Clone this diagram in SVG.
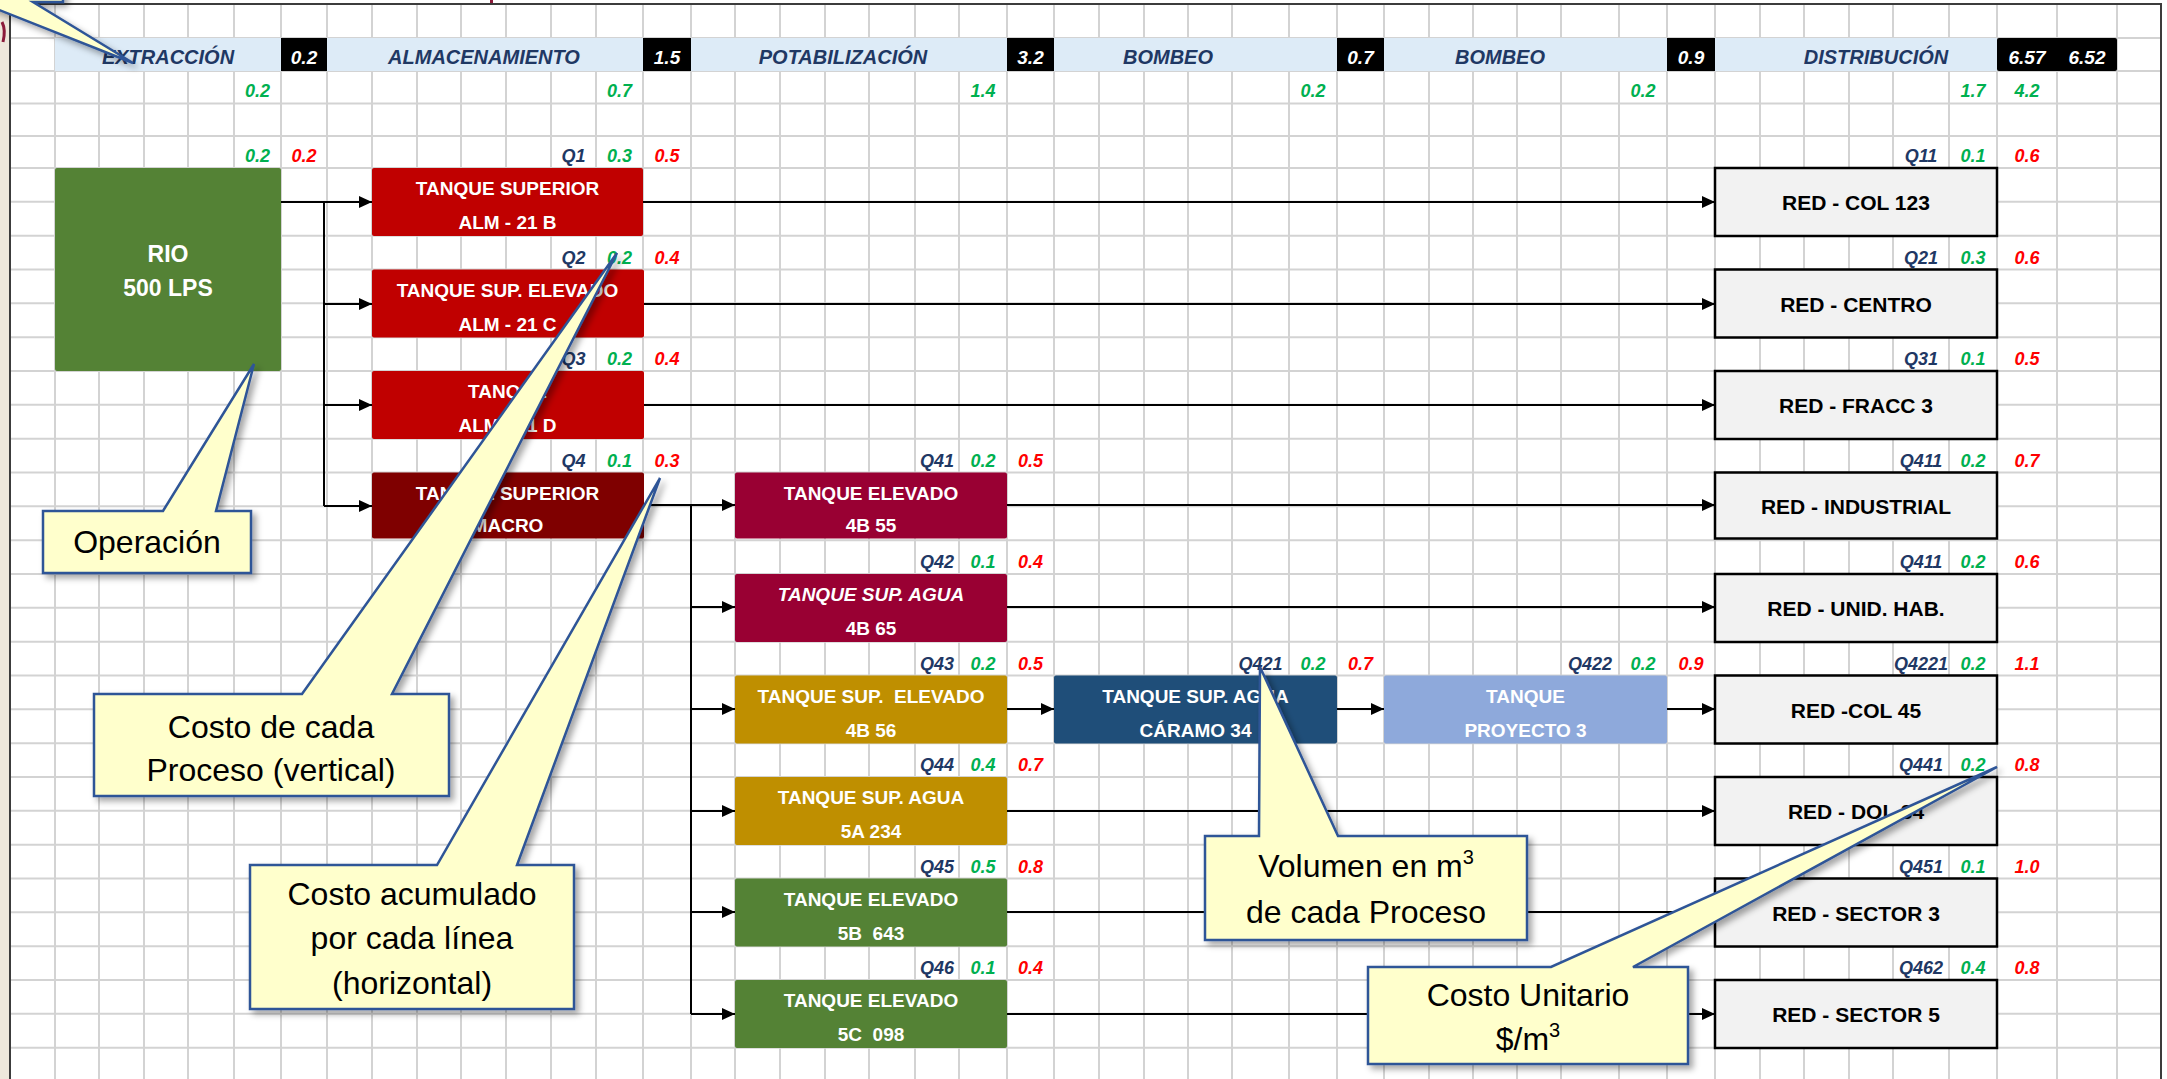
<svg xmlns="http://www.w3.org/2000/svg" width="2167" height="1079" viewBox="0 0 2167 1079">
<defs>
<style>
.grid{stroke:#D3D3D3;stroke-width:2;fill:none}
.band{fill:#DDEBF7}
.blk{fill:#000}
.hdr{font-family:'Liberation Sans',Arial,sans-serif;font-weight:bold;font-style:italic;font-size:20px;fill:#1F3864;text-anchor:middle}
.bv{font-family:'Liberation Sans',Arial,sans-serif;font-weight:bold;font-style:italic;font-size:19px;fill:#fff;text-anchor:middle}
.q,.g,.r{font-family:'Liberation Sans',Arial,sans-serif;font-weight:bold;font-style:italic;font-size:18px;text-anchor:middle}
.q{fill:#1F3864}.g{fill:#00B050}.r{fill:#FF0000}
.bt{font-family:'Liberation Sans',Arial,sans-serif;font-weight:bold;font-size:19px;fill:#fff;text-anchor:middle}
.it{font-style:italic}
.rt{font-family:'Liberation Sans',Arial,sans-serif;font-weight:bold;font-size:21px;fill:#000;text-anchor:middle}
.redbox{fill:#F2F2F2;stroke:#000;stroke-width:2.5}
.conn path{stroke:#000;stroke-width:2;fill:none}
.arr{marker-end:url(#ah)}
.co{fill:#FFFFCC;stroke:#2F5597;stroke-width:2.5;stroke-linejoin:miter}
.ct{font-family:'Liberation Sans',Arial,sans-serif;font-size:32px;fill:#000;text-anchor:middle}
</style>
<marker id="ah" viewBox="0 0 13 12" refX="13" refY="6" markerWidth="13" markerHeight="12" markerUnits="userSpaceOnUse" orient="auto"><path d="M0,0 L13,6 L0,12 z" fill="#000"/></marker>
<filter id="sh" x="-20%" y="-20%" width="140%" height="140%"><feDropShadow dx="4" dy="4" stdDeviation="3" flood-color="#000" flood-opacity="0.35"/></filter>
</defs>

<rect x="0" y="0" width="2167" height="1079" fill="#fff"/>
<rect x="0" y="0" width="10" height="1079" fill="#EEE8DC"/>
<path d="M2,22 Q6,30 3,42" stroke="#8B1A3A" stroke-width="3" fill="none"/>
<rect x="490" y="0" width="3" height="4" fill="#8B1A3A"/>

<g id="grid">
<path class="grid" d="M55,5V1079M99,5V1079M144,5V1079M188,5V1079M234,5V1079M281,5V1079M327,5V1079M372,5V1079M417,5V1079M461,5V1079M506,5V1079M551,5V1079M596,5V1079M643,5V1079M691,5V1079M735,5V1079M780,5V1079M825,5V1079M869,5V1079M915,5V1079M959,5V1079M1007,5V1079M1054,5V1079M1099,5V1079M1144,5V1079M1188,5V1079M1232,5V1079M1289,5V1079M1337,5V1079M1384,5V1079M1429,5V1079M1473,5V1079M1517,5V1079M1561,5V1079M1619,5V1079M1667,5V1079M1715,5V1079M1760,5V1079M1804,5V1079M1849,5V1079M1893,5V1079M1949,5V1079M1997,5V1079M2057,5V1079M2117,5V1079"/>
<path class="grid" d="M10,38H2161M10,71H2161M10,103.5H2161M10,136H2161M10,168H2161M10,201.8H2161M10,235.7H2161M10,269.5H2161M10,303.3H2161M10,337.2H2161M10,371H2161M10,404.8H2161M10,438.7H2161M10,472.5H2161M10,506.3H2161M10,540.2H2161M10,574H2161M10,607.8H2161M10,641.7H2161M10,675.5H2161M10,709.3H2161M10,743.2H2161M10,777H2161M10,810.8H2161M10,844.7H2161M10,878.5H2161M10,912.3H2161M10,946.2H2161M10,980H2161M10,1013.8H2161M10,1047.7H2161"/>
<rect x="10" y="4" width="2151" height="1080" fill="none" stroke="#3C3C3C" stroke-width="2"/>
</g>

<g id="header">
<rect class="band" x="55" y="38" width="1942" height="33"/>
<rect class="blk" x="281" y="38" width="46" height="33"/>
<rect class="blk" x="643" y="38" width="48" height="33"/>
<rect class="blk" x="1007" y="38" width="47" height="33"/>
<rect class="blk" x="1337" y="38" width="47" height="33"/>
<rect class="blk" x="1667" y="38" width="48" height="33"/>
<rect class="blk" x="1997" y="38" width="120" height="33" rx="2"/>
<text class="hdr" x="168" y="64">EXTRACCIÓN</text>
<text class="hdr" x="484" y="64">ALMACENAMIENTO</text>
<text class="hdr" x="843" y="64">POTABILIZACIÓN</text>
<text class="hdr" x="1168" y="64">BOMBEO</text>
<text class="hdr" x="1500" y="64">BOMBEO</text>
<text class="hdr" x="1876" y="64">DISTRIBUCIÓN</text>
<text class="bv" x="304" y="64">0.2</text>
<text class="bv" x="667" y="64">1.5</text>
<text class="bv" x="1030.5" y="64">3.2</text>
<text class="bv" x="1360.5" y="64">0.7</text>
<text class="bv" x="1691" y="64">0.9</text>
<text class="bv" x="2027" y="64">6.57</text>
<text class="bv" x="2087" y="64">6.52</text>
<text class="g" x="257.5" y="97">0.2</text>
<text class="g" x="619.5" y="97">0.7</text>
<text class="g" x="983" y="97">1.4</text>
<text class="g" x="1313" y="97">0.2</text>
<text class="g" x="1643" y="97">0.2</text>
<text class="g" x="1973" y="97">1.7</text>
<text class="g" x="2027" y="97">4.2</text>
</g>

<g id="labels">
<text class="g" x="257.5" y="162">0.2</text><text class="r" x="304" y="162">0.2</text>
<text class="q" x="573.5" y="162">Q1</text><text class="g" x="619.5" y="162">0.3</text><text class="r" x="667" y="162">0.5</text>
<text class="q" x="1921" y="162">Q11</text><text class="g" x="1973" y="162">0.1</text><text class="r" x="2027" y="162">0.6</text>

<text class="q" x="573.5" y="263.5">Q2</text><text class="g" x="619.5" y="263.5">0.2</text><text class="r" x="667" y="263.5">0.4</text>
<text class="q" x="1921" y="263.5">Q21</text><text class="g" x="1973" y="263.5">0.3</text><text class="r" x="2027" y="263.5">0.6</text>

<text class="q" x="573.5" y="365">Q3</text><text class="g" x="619.5" y="365">0.2</text><text class="r" x="667" y="365">0.4</text>
<text class="q" x="1921" y="365">Q31</text><text class="g" x="1973" y="365">0.1</text><text class="r" x="2027" y="365">0.5</text>

<text class="q" x="573.5" y="466.5">Q4</text><text class="g" x="619.5" y="466.5">0.1</text><text class="r" x="667" y="466.5">0.3</text>
<text class="q" x="937" y="466.5">Q41</text><text class="g" x="983" y="466.5">0.2</text><text class="r" x="1030.5" y="466.5">0.5</text>
<text class="q" x="1921" y="466.5">Q411</text><text class="g" x="1973" y="466.5">0.2</text><text class="r" x="2027" y="466.5">0.7</text>

<text class="q" x="937" y="568">Q42</text><text class="g" x="983" y="568">0.1</text><text class="r" x="1030.5" y="568">0.4</text>
<text class="q" x="1921" y="568">Q411</text><text class="g" x="1973" y="568">0.2</text><text class="r" x="2027" y="568">0.6</text>

<text class="q" x="937" y="669.5">Q43</text><text class="g" x="983" y="669.5">0.2</text><text class="r" x="1030.5" y="669.5">0.5</text>
<text class="q" x="1260.5" y="669.5">Q421</text><text class="g" x="1313" y="669.5">0.2</text><text class="r" x="1360.5" y="669.5">0.7</text>
<text class="q" x="1590" y="669.5">Q422</text><text class="g" x="1643" y="669.5">0.2</text><text class="r" x="1691" y="669.5">0.9</text>
<text class="q" x="1921" y="669.5">Q4221</text><text class="g" x="1973" y="669.5">0.2</text><text class="r" x="2027" y="669.5">1.1</text>

<text class="q" x="937" y="771">Q44</text><text class="g" x="983" y="771">0.4</text><text class="r" x="1030.5" y="771">0.7</text>
<text class="q" x="1921" y="771">Q441</text><text class="g" x="1973" y="771">0.2</text><text class="r" x="2027" y="771">0.8</text>

<text class="q" x="937" y="872.5">Q45</text><text class="g" x="983" y="872.5">0.5</text><text class="r" x="1030.5" y="872.5">0.8</text>
<text class="q" x="1921" y="872.5">Q451</text><text class="g" x="1973" y="872.5">0.1</text><text class="r" x="2027" y="872.5">1.0</text>

<text class="q" x="937" y="974">Q46</text><text class="g" x="983" y="974">0.1</text><text class="r" x="1030.5" y="974">0.4</text>
<text class="q" x="1921" y="974">Q462</text><text class="g" x="1973" y="974">0.4</text><text class="r" x="2027" y="974">0.8</text>
</g>

<g id="connectors" class="conn">
<path class="arr" d="M281,202H372"/>
<path d="M324,202V506"/>
<path class="arr" d="M324,304H372"/>
<path class="arr" d="M324,405H372"/>
<path class="arr" d="M324,506H372"/>
<path class="arr" d="M643,202H1715"/>
<path class="arr" d="M643,304H1715"/>
<path class="arr" d="M643,405H1715"/>
<path class="arr" d="M641,505H735"/>
<path d="M691,505V1014"/>
<path class="arr" d="M691,607H735"/>
<path class="arr" d="M691,709H735"/>
<path class="arr" d="M691,811H735"/>
<path class="arr" d="M691,912H735"/>
<path class="arr" d="M691,1014H735"/>
<path class="arr" d="M1007,505H1715"/>
<path class="arr" d="M1007,607H1715"/>
<path class="arr" d="M1001,709H1054"/>
<path class="arr" d="M1331,709H1384"/>
<path class="arr" d="M1661,709H1715"/>
<path class="arr" d="M1007,811H1715"/>
<path class="arr" d="M1007,912H1715"/>
<path class="arr" d="M1007,1014H1715"/>
</g>

<g id="n_rio"><rect x="55" y="168" width="226" height="203" rx="2" fill="#548235"/>
<text class="bt" x="168" y="262" style="font-size:23px">RIO</text><text class="bt" x="168" y="296" style="font-size:23px">500 LPS</text></g>

<g id="n_alm21b"><rect x="372" y="168" width="271" height="68" rx="2" fill="#C00000"/>
<text class="bt" x="507.5" y="195">TANQUE SUPERIOR</text><text class="bt" x="507.5" y="229">ALM - 21 B</text></g>
<g id="n_alm21c"><rect x="372" y="269.5" width="272" height="68" rx="2" fill="#C00000"/>
<text class="bt" x="507.5" y="296.5">TANQUE SUP. ELEVADO</text><text class="bt" x="507.5" y="330.5">ALM - 21 C</text></g>
<g id="n_alm21d"><rect x="372" y="371" width="272" height="68" rx="2" fill="#C00000"/>
<text class="bt" x="507.5" y="398">TANQUE</text><text class="bt" x="507.5" y="432">ALM - 21 D</text></g>
<g id="n_macro"><rect x="372" y="472.5" width="272" height="66" rx="2" fill="#7F0000"/>
<text class="bt" x="507.5" y="499.5">TANQUE SUPERIOR</text><text class="bt" x="507.5" y="532">MACRO</text></g>

<g id="n_4b55"><rect x="735" y="472.5" width="272" height="66" rx="2" fill="#990033"/>
<text class="bt" x="871" y="499.5">TANQUE ELEVADO</text><text class="bt" x="871" y="532">4B 55</text></g>
<g id="n_4b65"><rect x="735" y="574" width="272" height="68" rx="2" fill="#990033"/>
<text class="bt it" x="871" y="601">TANQUE SUP. AGUA</text><text class="bt" x="871" y="635">4B 65</text></g>
<g id="n_4b56"><rect x="735" y="675.5" width="272" height="68" rx="2" fill="#BF8F00"/>
<text class="bt" x="871" y="702.5" xml:space="preserve">TANQUE SUP.  ELEVADO</text><text class="bt" x="871" y="736.5">4B 56</text></g>
<g id="n_5a234"><rect x="735" y="777" width="272" height="68" rx="2" fill="#BF8F00"/>
<text class="bt" x="871" y="804">TANQUE SUP. AGUA</text><text class="bt" x="871" y="838">5A 234</text></g>
<g id="n_5b643"><rect x="735" y="878.5" width="272" height="68" rx="2" fill="#548235"/>
<text class="bt" x="871" y="905.5">TANQUE ELEVADO</text><text class="bt" x="871" y="939.5" xml:space="preserve">5B  643</text></g>
<g id="n_5c098"><rect x="735" y="980" width="272" height="68" rx="2" fill="#548235"/>
<text class="bt" x="871" y="1007">TANQUE ELEVADO</text><text class="bt" x="871" y="1041" xml:space="preserve">5C  098</text></g>

<g id="n_caramo"><rect x="1054" y="675.5" width="283" height="68" rx="2" fill="#1F4E79"/>
<text class="bt" x="1195.5" y="702.5">TANQUE SUP. AGUA</text><text class="bt" x="1195.5" y="736.5">CÁRAMO 34</text></g>
<g id="n_proy"><rect x="1384" y="675.5" width="283" height="68" rx="2" fill="#8EA9DB"/>
<text class="bt" x="1525.5" y="702.5">TANQUE</text><text class="bt" x="1525.5" y="736.5">PROYECTO 3</text></g>

<g id="n_red_col123"><rect class="redbox" x="1715" y="168" width="282" height="68"/><text class="rt" x="1856" y="210">RED - COL 123</text></g>
<g id="n_red_centro"><rect class="redbox" x="1715" y="269.5" width="282" height="68"/><text class="rt" x="1856" y="311.5">RED - CENTRO</text></g>
<g id="n_red_fracc3"><rect class="redbox" x="1715" y="371" width="282" height="68"/><text class="rt" x="1856" y="413">RED - FRACC 3</text></g>
<g id="n_red_industrial"><rect class="redbox" x="1715" y="472.5" width="282" height="66"/><text class="rt" x="1856" y="513.5">RED - INDUSTRIAL</text></g>
<g id="n_red_unid"><rect class="redbox" x="1715" y="574" width="282" height="68"/><text class="rt" x="1856" y="616">RED - UNID. HAB.</text></g>
<g id="n_red_col45"><rect class="redbox" x="1715" y="675.5" width="282" height="68"/><text class="rt" x="1856" y="717.5">RED -COL 45</text></g>
<g id="n_red_dol34"><rect class="redbox" x="1715" y="777" width="282" height="68"/><text class="rt" x="1856" y="819">RED - DOL 34</text></g>
<g id="n_red_sector3"><rect class="redbox" x="1715" y="878.5" width="282" height="68"/><text class="rt" x="1856" y="920.5">RED - SECTOR 3</text></g>
<g id="n_red_sector5"><rect class="redbox" x="1715" y="980" width="282" height="68"/><text class="rt" x="1856" y="1022">RED - SECTOR 5</text></g>

<g id="callouts">
<g id="c_top" filter="url(#sh)"><path class="co" d="M-60,-40V2H-21L133,63L33,2H63V-40Z"/></g>
<g id="c_operacion"><path class="co" filter="url(#sh)" d="M43,511H163L254,364L216,511H251V573H43Z"/>
<text class="ct" x="147" y="553">Operación</text></g>
<g id="c_costo_proceso"><path class="co" filter="url(#sh)" d="M94,694H302L617,253L392,694H449V796H94Z"/>
<text class="ct" x="271" y="738">Costo de cada</text><text class="ct" x="271" y="781">Proceso (vertical)</text></g>
<g id="c_costo_acum"><path class="co" filter="url(#sh)" d="M250,865H437L660,478L517,865H574V1009H250Z"/>
<text class="ct" x="412" y="905">Costo acumulado</text><text class="ct" x="412" y="949">por cada línea</text><text class="ct" x="412" y="994">(horizontal)</text></g>
<g id="c_volumen"><path class="co" filter="url(#sh)" d="M1205,836H1259L1260,667L1338,836H1527V940H1205Z"/>
<text class="ct" x="1366" y="877">Volumen en m<tspan dy="-13" font-size="20">3</tspan></text><text class="ct" x="1366" y="923">de cada Proceso</text></g>
<g id="c_unitario"><path class="co" filter="url(#sh)" d="M1368,967H1551L1997,767L1633,967H1688V1064H1368Z"/>
<text class="ct" x="1528" y="1006">Costo Unitario</text><text class="ct" x="1528" y="1050">$/m<tspan dy="-13" font-size="20">3</tspan></text></g>
</g>
</svg>
